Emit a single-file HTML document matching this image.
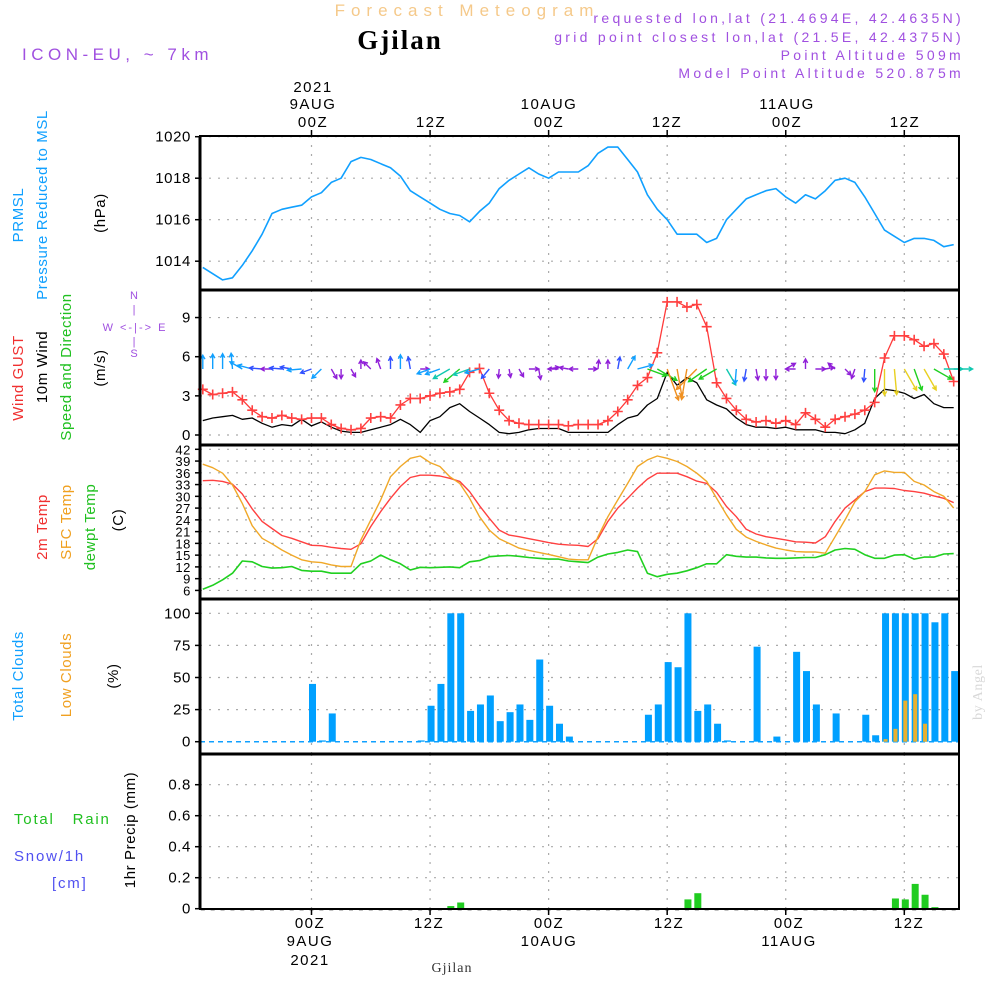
<!DOCTYPE html>
<html><head><meta charset="utf-8"><title>Gjilan meteogram</title>
<style>
html,body{margin:0;padding:0;background:#fff;}
svg{display:block;font-family:"Liberation Sans","DejaVu Sans",sans-serif;}
</style></head>
<body>
<svg id="chart" width="1000" height="1000" viewBox="0 0 1000 1000" xmlns="http://www.w3.org/2000/svg">
<rect x="0" y="0" width="1000" height="1000" fill="#fff"/>
<g id="grid"></g>
<g id="marks"></g>
<g id="frame"></g>
<g id="labels" font-size="15" letter-spacing="0.6">
  <text x="467" y="16" text-anchor="middle" fill="#f5c98a" font-size="17" letter-spacing="6">Forecast Meteogram</text>
  <text x="400" y="49" text-anchor="middle" fill="#000" font-size="27" font-weight="bold" font-family="Liberation Serif, serif" letter-spacing="2">Gjilan</text>
  <text x="22" y="60" fill="#a050e0" font-size="17" letter-spacing="4.5">ICON-EU, ~ 7km</text>
  <g fill="#a050e0" font-size="14" text-anchor="end" letter-spacing="3.3">
    <text x="964" y="23">requested lon,lat (21.4694E, 42.4635N)</text>
    <text x="964" y="42">grid point closest lon,lat (21.5E, 42.4375N)</text>
    <text x="964" y="60">Point Altitude 509m</text>
    <text x="964" y="78">Model Point Altitude 520.875m</text>
  </g>
  <g fill="#000" text-anchor="middle" font-size="15" letter-spacing="1.5">
    <text x="313" y="92">2021</text><text x="313" y="109">9AUG</text><text x="313" y="127">00Z</text>
    <text x="431" y="127">12Z</text>
    <text x="549" y="109">10AUG</text><text x="549" y="127">00Z</text>
    <text x="667" y="127">12Z</text>
    <text x="787" y="109">11AUG</text><text x="787" y="127">00Z</text>
    <text x="905" y="127">12Z</text>
  </g>
  <g fill="#000" text-anchor="middle" font-size="15" letter-spacing="1.5">
    <text x="310" y="928">00Z</text><text x="310" y="946">9AUG</text><text x="310" y="965">2021</text>
    <text x="429" y="928">12Z</text>
    <text x="549" y="928">00Z</text><text x="549" y="946">10AUG</text>
    <text x="669" y="928">12Z</text>
    <text x="789" y="928">00Z</text><text x="789" y="946">11AUG</text>
    <text x="909" y="928">12Z</text>
  </g>
  <text x="452" y="972" text-anchor="middle" fill="#333" font-size="14" font-family="Liberation Serif, serif" letter-spacing="1">Gjilan</text>
  <text transform="translate(982,692) rotate(-90)" text-anchor="middle" fill="#d8d8d8" font-size="14" font-family="Liberation Serif, serif">by Angel</text>

  <text transform="translate(23,215) rotate(-90)" text-anchor="middle" fill="#10a0ff">PRMSL</text>
  <text transform="translate(47,205) rotate(-90)" text-anchor="middle" fill="#10a0ff">Pressure Reduced to MSL</text>
  <text transform="translate(105,213) rotate(-90)" text-anchor="middle" fill="#000">(hPa)</text>
  <text transform="translate(23,378) rotate(-90)" text-anchor="middle" fill="#f03030">Wind GUST</text>
  <text transform="translate(47,367) rotate(-90)" text-anchor="middle" fill="#000">10m Wind</text>
  <text transform="translate(71,367) rotate(-90)" text-anchor="middle" fill="#20c020">Speed and Direction</text>
  <text transform="translate(105,368) rotate(-90)" text-anchor="middle" fill="#000">(m/s)</text>
  <g fill="#a050e0" font-size="11" text-anchor="middle" letter-spacing="2">
    <text x="135" y="299">N</text><text x="135" y="313">|</text>
    <text x="135" y="331">W &lt;-|-&gt; E</text>
    <text x="135" y="345">|</text><text x="135" y="357">S</text>
  </g>
  <text transform="translate(47,527) rotate(-90)" text-anchor="middle" fill="#f03030">2m Temp</text>
  <text transform="translate(71,522) rotate(-90)" text-anchor="middle" fill="#f0a020">SFC Temp</text>
  <text transform="translate(95,527) rotate(-90)" text-anchor="middle" fill="#20c020">dewpt Temp</text>
  <text transform="translate(123,520) rotate(-90)" text-anchor="middle" fill="#000">(C)</text>
  <text transform="translate(23,676) rotate(-90)" text-anchor="middle" fill="#10a0ff">Total Clouds</text>
  <text transform="translate(71,675) rotate(-90)" text-anchor="middle" fill="#f0a020">Low Clouds</text>
  <text transform="translate(118,676) rotate(-90)" text-anchor="middle" fill="#000">(%)</text>
  <text x="14" y="824" fill="#20c020" letter-spacing="1.8" xml:space="preserve">Total   Rain</text>
  <text x="14" y="861" fill="#5050f0" letter-spacing="1.8">Snow/1h</text>
  <text x="52" y="888" fill="#5050f0" letter-spacing="1.8">[cm]</text>
  <text transform="translate(135,830) rotate(-90)" text-anchor="middle" fill="#000">1hr Precip (mm)</text>
</g>
</svg>
<script>
const hours = Array.from({length: 77}, (_, i) => i - 11);
const pressure = [1013.7,1013.4,1013.1,1013.2,1013.8,1014.5,1015.3,1016.3,1016.5,1016.6,1016.7,
1017.1,1017.3,1017.8,1018.0,1018.8,1019.0,1018.9,1018.7,1018.5,1018.1,1017.4,1017.1,
1016.8,1016.5,1016.3,1016.2,1015.9,1016.4,1016.8,1017.5,1017.9,1018.2,1018.5,1018.2,
1018.0,1018.3,1018.3,1018.3,1018.6,1019.2,1019.5,1019.5,1018.9,1018.3,1017.2,1016.5,
1016.0,1015.3,1015.3,1015.3,1014.9,1015.1,1016.0,1016.5,1017.0,1017.2,1017.4,1017.5,
1017.1,1016.8,1017.2,1017.0,1017.4,1017.9,1018.0,1017.8,1017.1,1016.3,1015.5,1015.2,
1014.9,1015.1,1015.1,1015.0,1014.7,1014.8];
const windGust = [3.5,3.1,3.2,3.3,2.7,1.9,1.4,1.3,1.5,1.3,1.2,
1.3,1.3,0.8,0.5,0.4,0.5,1.3,1.4,1.3,2.3,2.8,2.8,
3.0,3.2,3.3,3.5,4.8,5.1,3.2,1.9,1.1,0.9,0.8,0.8,
0.8,0.8,0.7,0.8,0.8,0.8,1.1,1.8,2.7,3.8,4.4,6.3,
10.2,10.2,9.8,10.0,8.3,4.0,2.8,1.9,1.2,1.0,1.1,0.9,
1.1,0.8,1.7,1.2,0.6,1.2,1.4,1.6,1.9,2.5,5.9,7.6,
7.6,7.3,6.8,7.0,6.2,4.1];
const wind10m = [1.1,1.3,1.4,1.5,1.2,1.3,0.9,0.6,0.8,0.7,1.2,
0.7,1.0,0.6,0.3,0.2,0.2,0.4,0.6,0.8,1.2,0.8,0.2,
1.1,1.4,2.1,2.4,1.8,1.3,0.8,0.2,0.1,0.2,0.4,0.5,
0.5,0.5,0.2,0.2,0.2,0.2,0.2,0.8,1.3,1.5,2.3,2.8,
4.8,3.8,4.4,4.0,2.7,2.3,2.0,1.3,0.8,0.6,0.6,0.5,
0.6,0.4,0.4,0.4,0.2,0.2,0.1,0.4,0.9,2.8,3.5,3.4,
3.2,2.8,3.1,2.4,2.1,2.1];
const windDir = [90,90,90,95,150,165,175,180,175,170,185,
200,225,300,270,300,90,135,110,90,90,100,0,
200,200,210,220,200,195,230,265,280,300,0,280,
10,180,170,180,0,85,90,80,60,15,-20,-30,
-70,-80,-100,225,215,210,300,265,260,280,270,270,
30,180,90,0,10,140,315,250,265,270,270,275,
300,290,300,330,0,0];
const temp2m = [34.0,34.1,33.8,33.1,30.6,26.8,23.6,21.8,20.0,19.3,18.4,
17.5,17.4,17.0,16.7,16.5,17.9,22.3,26.1,29.5,32.5,34.8,35.4,
35.4,35.2,34.6,33.8,31.2,27.6,24.4,21.4,20.1,19.7,19.2,18.7,
18.2,17.8,17.6,17.5,17.2,19.2,23.6,27.0,29.5,32.1,34.4,35.9,
35.9,35.9,35.0,33.9,33.3,31.0,27.4,24.8,21.6,20.4,19.7,19.3,
18.9,18.4,18.3,18.1,19.7,23.6,27.0,29.1,31.2,32.1,32.1,32.0,
31.5,31.2,30.8,30.1,29.5,28.4];
const tempSfc = [38.2,37.3,35.9,32.9,28.2,22.5,19.3,17.9,16.3,15.0,13.8,
13.3,13.1,12.5,12.1,12.1,18.9,24.0,29.1,35.0,37.6,39.7,40.3,
38.6,37.6,35.0,33.3,29.5,24.8,21.4,19.2,18.0,16.8,16.2,15.7,
15.2,14.6,14.0,13.8,13.8,19.7,24.8,29.1,33.3,37.6,39.3,40.3,
39.7,38.9,37.6,35.9,33.8,29.5,25.3,21.6,19.6,18.5,17.6,16.8,
16.3,15.9,15.8,15.8,15.5,19.7,24.0,28.6,31.2,35.5,36.5,36.1,
36.1,33.8,32.9,31.2,30.0,27.0];
const dewpt = [6.3,7.3,8.7,10.4,13.5,13.3,12.1,11.7,11.8,12.1,11.1,
10.9,10.9,10.4,10.4,10.4,12.8,13.5,15.0,13.8,12.8,11.2,11.9,
11.8,11.9,12.0,11.8,13.3,13.6,14.6,14.8,14.9,14.7,14.4,14.2,
14.0,14.0,13.5,13.3,13.1,14.5,15.3,15.7,16.3,15.9,10.4,9.5,
10.1,10.4,11.0,11.8,12.8,12.8,15.1,14.7,14.5,14.5,14.3,14.2,
14.2,14.3,14.4,14.4,15.1,16.3,16.7,16.5,15.1,14.2,14.2,15.0,
15.1,14.0,14.5,14.5,15.3,15.4];
const totalClouds = [0,0,0,0,0,0,0,0,0,0,0,
45,1,22,0,0,0,0,0,0,0,0,1,
28,45,100,100,24,29,36,16,23,29,17,64,
28,14,4,0,0,0,0,0,0,0,21,29,
62,58,100,24,29,14,1,0,0,74,0,4,
0,70,55,29,0,22,0,0,21,5,100,100,
100,100,100,93,100,55];
const lowClouds = [0,0,0,0,0,0,0,0,0,0,0,
0,0,0,0,0,0,0,0,0,0,0,0,
0,0,0,0,0,0,0,0,0,0,0,0,
0,0,0,0,0,0,0,0,0,0,0,0,
0,0,0,0,0,0,0,0,0,0,0,0,
0,0,0,0,0,0,0,0,0,0,2,10,
32,37,14,0,0,0];
const precip = [0,0,0,0,0,0,0,0,0,0,0,
0,0,0,0,0,0,0,0,0,0,0,0,
0,0,0.017,0.04,0,0,0,0,0,0,0,0,
0,0,0,0,0,0,0,0,0,0,0,0,
0,0,0.06,0.1,0,0,0,0,0,0,0,0,
0,0,0,0,0,0,0,0,0,0,0,0.066,
0.06,0.16,0.09,0.01,0,0];
const pressureTicks = [1014,1016,1018,1020];
const windTicks = [0,3,6,9];
const tempTicks = [6,9,12,15,18,21,24,27,30,33,36,39,42];
const cloudTicks = [0,25,50,75,100];
const precipTicks = [0,0.2,0.4,0.6,0.8];
const precipTickLabels = ["0","0.2","0.4","0.6","0.8"];
const gridHours = [0,12,24,36,48,60];

const X0 = 200, X1 = 959;
const xT = t => 311.5 + 9.88 * t;
const yP = v => 136.7 + (1020 - v) * 20.75;
const yW = v => 435 - v * 13.05;
const yT = v => 449.3 + (42 - v) * 3.92;
const yC = v => 741.7 - v * 1.284;
const yR = v => 908.7 - v * 155;
const panels = [[136,290],[290,445],[445,599],[599,754],[754,909]];

const NS = 'http://www.w3.org/2000/svg';
const gGrid = document.getElementById('grid');
const gMarks = document.getElementById('marks');
const gFrame = document.getElementById('frame');
const gLab = document.getElementById('labels');
function mk(tag, attrs, parent) {
  const e = document.createElementNS(NS, tag);
  for (const k in attrs) e.setAttribute(k, attrs[k]);
  parent.appendChild(e);
  return e;
}

function yAxis(ticks, yf, labels, fs, nm) {
  ticks.forEach((v, i) => {
    const y = yf(v);
    const l = mk('line', {x1: X0, x2: X1, y1: y, y2: y, stroke: '#aaa', 'stroke-width': 1.2, 'stroke-dasharray': '2,7'}, gGrid);
    
    
    mk('line', {x1: X0 - 5, x2: X0, y1: y, y2: y, stroke: '#000', 'stroke-width': 1.5}, gFrame);
    const t = mk('text', {x: X0 - 9, y: y + 5, 'text-anchor': 'end', fill: '#000', 'font-size': fs}, gLab);
    t.textContent = labels ? labels[i] : String(v);
    
    
  });
}
yAxis(pressureTicks, yP, null, 15, 'pressure');
yAxis(windTicks, yW, null, 15, 'wind');
yAxis(tempTicks, yT, null, 13, 'temp');
yAxis(cloudTicks, yC, null, 15, 'cloud');
yAxis(precipTicks, yR, precipTickLabels, 15, 'precip');

panels.forEach(p => {
  gridHours.forEach(h => {
    const x = xT(h);
    const l = mk('line', {x1: x, x2: x, y1: p[0], y2: p[1], stroke: '#aaa', 'stroke-width': 1.2, 'stroke-dasharray': '2,7'}, gGrid);
    
    
  });
});

function line(vals, yf, color, w, nm) {
  const d = vals.map((v, i) => (i ? 'L' : 'M') + xT(hours[i]).toFixed(1) + ',' + yf(v).toFixed(1)).join('');
  const p = mk('path', {d: d, fill: 'none', stroke: color, 'stroke-width': w, 'stroke-linejoin': 'round'}, gMarks);
  
  
}

line(pressure, yP, '#10a0ff', 1.6, 'pressure-line');
line(wind10m, yW, '#000', 1.3, 'wind-10m-line');
line(windGust, yW, '#ff3a3a', 1.3, 'wind-gust-line');
windGust.forEach((v, i) => {
  const x = xT(hours[i]), y = yW(v);
  const m = mk('path', {d: `M${x-5},${y}H${x+5}M${x},${y-5}V${y+5}`, stroke: '#ff4040', 'stroke-width': 1.6}, gMarks);
  
  
});
function arrowColor(s) {
  if (s < 0.7) return '#9020d8';
  if (s < 1.0) return '#3050ff';
  if (s < 1.6) return '#10a0ff';
  if (s < 2.2) return '#10c8b0';
  if (s < 3.0) return '#20d020';
  if (s < 3.6) return '#e8d020';
  return '#f09020';
}
windDir.forEach((dg, i) => {
  const s = wind10m[i];
  const len = 8 + 5.2 * s;
  const a = dg * Math.PI / 180;
  const x0 = xT(hours[i]), y0 = 369;
  const x1 = x0 + len * Math.cos(a), y1 = y0 - len * Math.sin(a);
  const h = 4.5, b1 = a + Math.PI - 0.5, b2 = a + Math.PI + 0.5;
  const d = `M${x0.toFixed(1)},${y0}L${x1.toFixed(1)},${y1.toFixed(1)}` +
    `M${(x1 + h*Math.cos(b1)).toFixed(1)},${(y1 - h*Math.sin(b1)).toFixed(1)}L${x1.toFixed(1)},${y1.toFixed(1)}L${(x1 + h*Math.cos(b2)).toFixed(1)},${(y1 - h*Math.sin(b2)).toFixed(1)}`;
  const p = mk('path', {d: d, fill: 'none', stroke: arrowColor(s), 'stroke-width': 1.4}, gMarks);
  
  
});

line(temp2m, yT, '#ff4040', 1.4, 'temp-2m-line');
line(tempSfc, yT, '#f0a828', 1.4, 'temp-sfc-line');
line(dewpt, yT, '#20d020', 1.6, 'dewpt-line');

const zc = mk('line', {x1: X0, x2: X1, y1: yC(0), y2: yC(0), stroke: '#10a0ff', 'stroke-width': 1.5, 'stroke-dasharray': '5,4'}, gMarks);


totalClouds.forEach((v, i) => {
  if (v <= 0) return;
  const x = xT(hours[i]) + 1;
  const r = mk('rect', {x: x - 3.5, y: yC(v), width: 7, height: yC(0) - yC(v), fill: '#00a0ff'}, gMarks);
  
  
});
lowClouds.forEach((v, i) => {
  if (v <= 0) return;
  const x = xT(hours[i]) + 1;
  const r = mk('rect', {x: x - 2, y: yC(v), width: 4, height: yC(0) - yC(v), fill: '#e8b030'}, gMarks);
  
  
});

precip.forEach((v, i) => {
  if (v <= 0) return;
  const x = xT(hours[i]) + 1;
  const r = mk('rect', {x: x - 3.5, y: yR(v), width: 7, height: yR(0) - yR(v), fill: '#20cc20'}, gMarks);
  
  
});

panels.forEach((p, i) => {
  const r = mk('rect', {x: X0, y: p[0], width: X1 - X0, height: p[1] - p[0], fill: 'none', stroke: '#000', 'stroke-width': 2}, gFrame);
  
  
});
[290, 445, 599, 754].forEach(y => {
  mk('line', {x1: X0, x2: X1, y1: y, y2: y, stroke: '#000', 'stroke-width': 3}, gFrame);
});
mk('line', {x1: X0, x2: X0, y1: 136, y2: 909, stroke: '#000', 'stroke-width': 3}, gFrame);
gridHours.forEach(h => {
  const x = xT(h);
  mk('line', {x1: x, x2: x, y1: 130, y2: 136, stroke: '#000', 'stroke-width': 1.5}, gFrame);
  mk('line', {x1: x, x2: x, y1: 909, y2: 915, stroke: '#000', 'stroke-width': 1.5}, gFrame);
});
hours.forEach(h => {
  const x = xT(h);
  mk('line', {x1: x - 2, x2: x + 2, y1: 909.5, y2: 909.5, stroke: '#000', 'stroke-width': 1.5}, gFrame);
});
</script>
</body></html>
